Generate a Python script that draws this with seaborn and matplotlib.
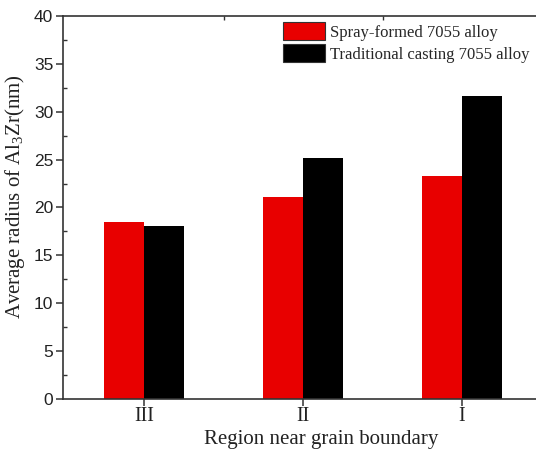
import matplotlib
matplotlib.use("Agg")
import matplotlib.pyplot as plt
import seaborn as sns
import pandas as pd
from matplotlib.ticker import MultipleLocator, FixedLocator

regions = ["III", "II", "I"]
series = ["Spray-formed 7055 alloy", "Traditional casting 7055 alloy"]
spray_values = [18.5, 21.1, 23.3]
casting_values = [18.1, 25.2, 31.6]
colors = ["#e80000", "#000000"]

df = pd.DataFrame({
    "Region": regions * 2,
    "Alloy": [series[0]] * 3 + [series[1]] * 3,
    "Radius": spray_values + casting_values,
})

sns.set_style("white")
plt.rcParams["mathtext.fontset"] = "custom"
plt.rcParams["mathtext.rm"] = "Liberation Serif"
plt.rcParams["mathtext.it"] = "Liberation Serif:italic"

fig = plt.figure(figsize=(5.36, 4.54), dpi=100)
ax = fig.add_axes([63 / 536, 55 / 454, 1 - 63 / 536, (399 - 16) / 454])

sns.barplot(data=df, x="Region", y="Radius", hue="Alloy", order=regions,
            hue_order=series, palette=colors, width=0.5, gap=0,
            saturation=1, errorbar=None, ax=ax, edgecolor="none", linewidth=0)

ax.set_ylim(0, 40)
ax.set_xlim(-0.51, (536 - 144) / 159)
ax.yaxis.set_major_locator(MultipleLocator(5))
ax.yaxis.set_minor_locator(MultipleLocator(2.5))

for s in ["left", "bottom", "top"]:
    ax.spines[s].set_visible(True)
    ax.spines[s].set_linewidth(1.2)
    ax.spines[s].set_color("#333333")
ax.spines["right"].set_visible(False)

ax.tick_params(axis="y", which="major", direction="out", length=5, width=1.1,
               left=True, labelsize=12.5, colors="#333333", labelcolor="#222222",
               pad=2)
ax.tick_params(axis="y", which="minor", direction="in", length=3, width=1,
               left=True, colors="#333333")
ax.tick_params(axis="x", which="major", direction="out", length=5, width=1.1,
               bottom=True, labelsize=14.5, colors="#333333", labelcolor="#222222",
               pad=1)
ax.xaxis.set_minor_locator(FixedLocator([0.5, 1.5]))
ax.tick_params(axis="x", which="minor", direction="in", length=3, width=1,
               bottom=False, top=True, colors="#333333")

for lab in ax.get_yticklabels():
    lab.set_fontfamily("Liberation Sans")
for lab in ax.get_xticklabels():
    lab.set_fontfamily("Liberation Serif")

ax.set_xlabel("Region near grain boundary", fontfamily="Liberation Serif",
              fontsize=15, color="#222222")
ax.set_ylabel("Average radius of Al$_3$Zr(nm)", fontfamily="Liberation Serif",
              fontsize=15, color="#222222")
ax.xaxis.set_label_coords((321 - 63) / 473, -(430 - 399) / 383)
ax.yaxis.set_label_coords((27 - 63) / 473, (399 - 197) / 383)

leg = ax.legend(loc="upper left", bbox_to_anchor=((283 - 63) / 473, 1 - 6 / 383),
                frameon=False, prop={"family": "Liberation Serif", "size": 12},
                handlelength=2.5, handleheight=1.32, handletextpad=0.3,
                labelspacing=0.18, borderaxespad=0, borderpad=0)
for h in leg.legend_handles:
    h.set_edgecolor("#333333")
    h.set_linewidth(0.8)

fig.savefig("out.png", dpi=100)
